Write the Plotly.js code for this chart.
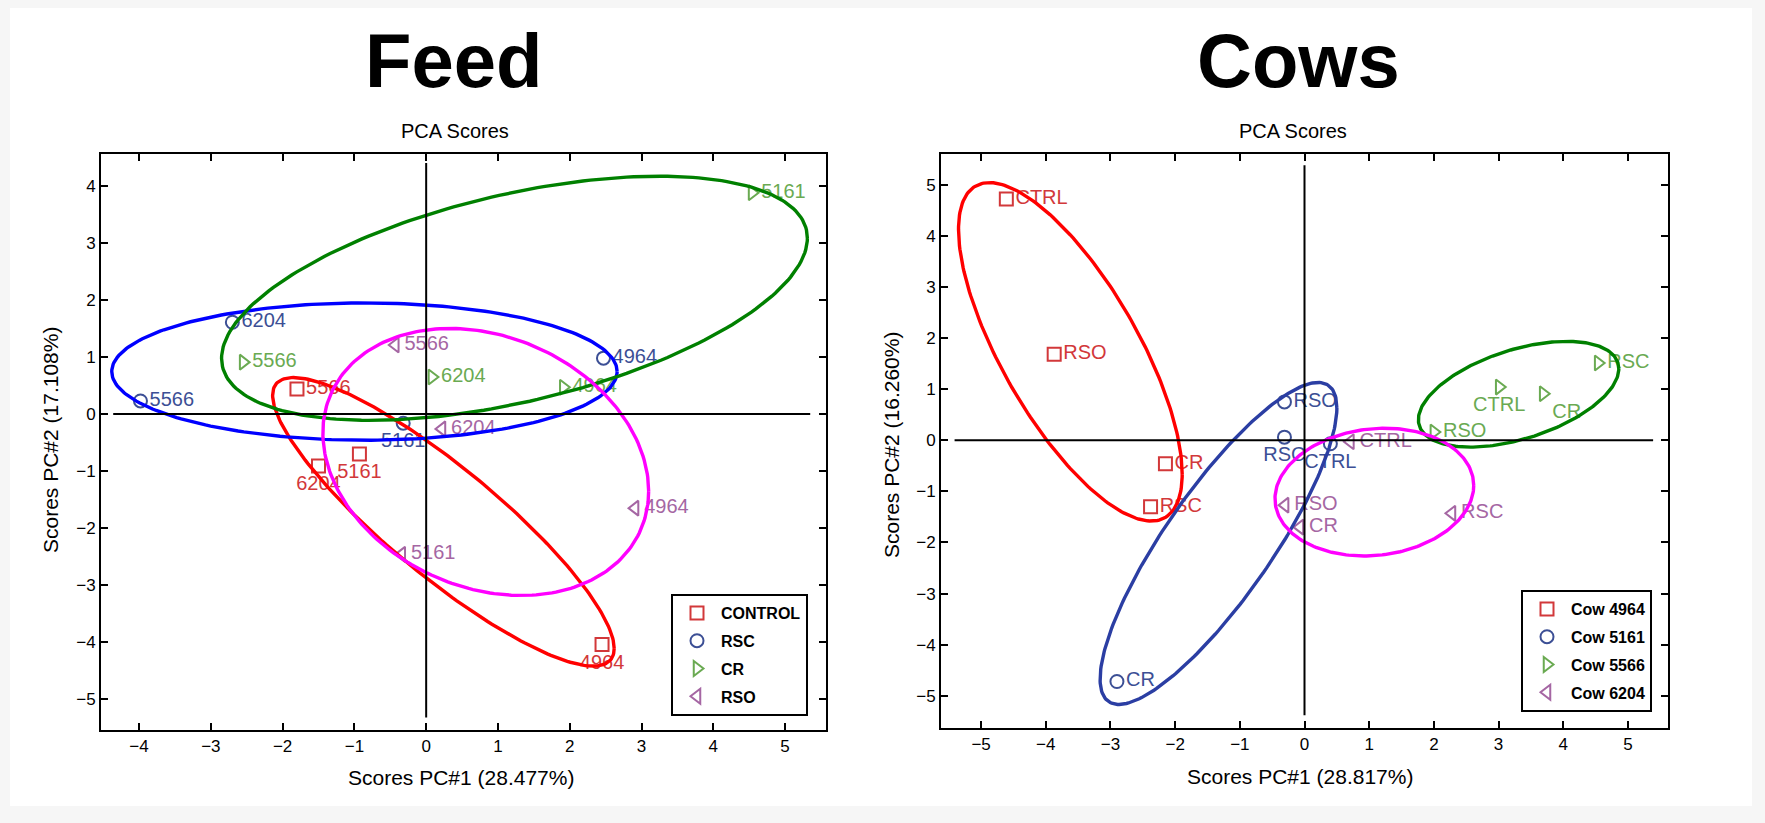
<!DOCTYPE html>
<html><head><meta charset="utf-8">
<script src="https://cdn.plot.ly/plotly-3.0.1.min.js"></script>
<style>html,body{margin:0;padding:0;background:#f6f6f6}</style>
</head><body><div id="chart" style="width:1765px;height:823px"></div>
<script>
// ---------------- DATA: Feed (left) ----------------
const feedGroups = ['CONTROL', 'RSC', 'CR', 'RSO'];
const feedControlX = [-1.80, -1.50, -0.93, 2.45];
const feedControlY = [0.44, -0.91, -0.70, -4.04];
const feedControlText = ['5566', '6204', '5161', '4964'];
const feedRscX = [-2.70, -3.98, 2.47, -0.32];
const feedRscY = [1.61, 0.23, 0.98, -0.16];
const feedRscText = ['6204', '5566', '4964', '5161'];
const feedCrX = [4.54, -2.55, 0.08, 1.91];
const feedCrY = [3.88, 0.91, 0.65, 0.47];
const feedCrText = ['5161', '5566', '6204', '4964'];
const feedRsoX = [-0.43, 0.22, -0.34, 2.91];
const feedRsoY = [1.21, -0.26, -2.46, -1.65];
const feedRsoText = ['5566', '6204', '5161', '4964'];
// confidence ellipses (centre, variances, covariance) per group
const feedEllCx = [0.24, -0.86, 1.23, 0.83];
const feedEllCy = [-1.89, 0.745, 2.03, -0.84];
const feedEllSxx = [5.66, 12.39, 16.65, 5.15];
const feedEllSyy = [6.40, 1.45, 4.58, 5.48];
const feedEllSxy = [-5.28, 0.0, 4.30, -1.16];

// ---------------- DATA: Cows (right) ----------------
const cowGroups = ['Cow 4964', 'Cow 5161', 'Cow 5566', 'Cow 6204'];
const cow4964X = [-4.61, -3.87, -2.15, -2.38];
const cow4964Y = [4.72, 1.68, -0.46, -1.30];
const cow4964Text = ['CTRL', 'RSO', 'CR', 'RSC'];
const cow5161X = [-0.31, -0.31, 0.40, -2.90];
const cow5161Y = [0.75, 0.06, -0.07, -4.72];
const cow5161Text = ['RSO', 'RSC', 'CTRL', 'CR'];
const cow5566X = [4.54, 3.01, 3.69, 2.00];
const cow5566Y = [1.51, 1.04, 0.91, 0.16];
const cow5566Text = ['RSC', 'CTRL', 'CR', 'RSO'];
const cow6204X = [0.71, -0.30, -0.07, 2.28];
const cow6204Y = [-0.03, -1.27, -1.70, -1.43];
const cow6204Text = ['CTRL', 'RSO', 'CR', 'RSC'];
const cowEllCx = [-3.62, -1.33, 3.31, 1.08];
const cowEllCy = [1.73, -2.02, 0.90, -1.015];
const cowEllSxx = [2.99, 3.35, 2.40, 2.36];
const cowEllSyy = [10.96, 9.92, 1.07, 1.56];
const cowEllSxy = [-4.14, 4.85, 0.77, 0.20];

// tick values
const feedXTicks = [-4, -3, -2, -1, 0, 1, 2, 3, 4, 5];
const feedYTicks = [-5, -4, -3, -2, -1, 0, 1, 2, 3, 4];
const cowXTicks = [-5, -4, -3, -2, -1, 0, 1, 2, 3, 4, 5];
const cowYTicks = [-5, -4, -3, -2, -1, 0, 1, 2, 3, 4, 5];

// ---------------- STYLE ----------------
const W = 1765, H = 823;
const px = v => v / W, py = v => 1 - v / H;
const FONT = 'Liberation Sans, Arial, Helvetica, sans-serif';
const markerColors = ['#d2383a', '#3c4f95', '#6aaa52', '#a566a3'];
const symbols = ['square-open', 'circle-open', 'triangle-right-open', 'triangle-left-open'];
const feedEllColors = ['#ff0000', '#0000ff', '#008000', '#ff00ff'];
const cowEllColors = ['#ff0000', '#2b3ea3', '#008000', '#ff00ff'];
const R = 'middle right', B = 'bottom center', BR = 'bottom right';
const feedPos = [[R, B, B, B], [R, R, R, B], [R, R, R, R], [R, R, R, R]];
const cowPos = [[R, R, R, R], [R, B, B, R], [R, B, BR, R], [R, R, R, R]];

const feedSets = [[feedControlX, feedControlY, feedControlText], [feedRscX, feedRscY, feedRscText],
                  [feedCrX, feedCrY, feedCrText], [feedRsoX, feedRsoY, feedRsoText]];
const cowSets = [[cow4964X, cow4964Y, cow4964Text], [cow5161X, cow5161Y, cow5161Text],
                 [cow5566X, cow5566Y, cow5566Text], [cow6204X, cow6204Y, cow6204Text]];

function ellipse(cx, cy, sxx, syy, sxy) {
  const a = Math.sqrt(sxx), b = sxy / a, c = Math.sqrt(Math.max(syy - b * b, 0));
  const xs = [], ys = [];
  for (let i = 0; i <= 240; i++) {
    const t = 2 * Math.PI * i / 240;
    xs.push(cx + a * Math.cos(t));
    ys.push(cy + b * Math.cos(t) + c * Math.sin(t));
  }
  return [xs, ys];
}

const traces = [];
function addPanel(sets, groups, pos, ell, ellColors, xa, ya, legendId) {
  sets.forEach((s, i) => {
    traces.push({
      type: 'scatter', mode: 'markers+text', x: s[0], y: s[1], text: s[2],
      name: groups[i], legend: legendId, legendgroup: legendId + i,
      xaxis: xa, yaxis: ya, textposition: pos[i],
      marker: {symbol: symbols[i], size: 13, color: markerColors[i], line: {width: 2, color: markerColors[i]}},
      textfont: {family: FONT, size: 20, color: markerColors[i]},
      hoverinfo: 'skip'
    });
  });
  ell[0].forEach((cx, i) => {
    const e = ellipse(cx, ell[1][i], ell[2][i], ell[3][i], ell[4][i]);
    traces.push({
      type: 'scatter', mode: 'lines', x: e[0], y: e[1], xaxis: xa, yaxis: ya,
      showlegend: false, legend: legendId, line: {color: ellColors[i], width: 3.4},
      hoverinfo: 'skip'
    });
  });
}
addPanel(feedSets, feedGroups, feedPos, [feedEllCx, feedEllCy, feedEllSxx, feedEllSyy, feedEllSxy], feedEllColors, 'x', 'y', 'legend');
addPanel(cowSets, cowGroups, cowPos, [cowEllCx, cowEllCy, cowEllSxx, cowEllSyy, cowEllSxy], cowEllColors, 'x2', 'y2', 'legend2');

const axisBase = {
  showgrid: false, zeroline: false, showline: true, linewidth: 2, linecolor: '#000',
  mirror: 'ticks', ticks: 'inside', ticklen: 7, tickwidth: 2, tickcolor: '#000',
  tickfont: {family: FONT, size: 17, color: '#000'}, tickmode: 'array', fixedrange: true
};

const lineStyle = {color: '#000', width: 2};
const shapes = [
  {type: 'rect', xref: 'paper', yref: 'paper', x0: px(10), x1: px(1752), y0: py(806), y1: py(8),
   fillcolor: '#ffffff', line: {width: 0}, layer: 'below'},
  {type: 'line', xref: 'x', yref: 'y', x0: -4.36, x1: 5.35, y0: 0, y1: 0, line: lineStyle},
  {type: 'line', xref: 'x', yref: 'y', x0: 0, x1: 0, y0: -5.32, y1: 4.40, line: lineStyle},
  {type: 'line', xref: 'x2', yref: 'y2', x0: -5.41, x1: 5.39, y0: 0, y1: 0, line: lineStyle},
  {type: 'line', xref: 'x2', yref: 'y2', x0: 0, x1: 0, y0: -5.38, y1: 5.38, line: lineStyle}
];

function ann(text, x, y, size, opts) {
  return Object.assign({text: text, x: px(x), y: py(y), xref: 'paper', yref: 'paper',
    showarrow: false, xanchor: 'center', yanchor: 'middle',
    font: {family: FONT, size: size, color: '#000'}}, opts || {});
}
const annotations = [
  ann('Feed', 454, 60, 76, {font: {family: FONT, size: 76, color: '#000', weight: 'bold'}}),
  ann('Cows', 1298, 60, 76, {font: {family: FONT, size: 76, color: '#000', weight: 'bold'}}),
  ann('PCA Scores', 455, 131, 20),
  ann('PCA Scores', 1293, 131, 20),
  ann('Scores PC#1 (28.477%)', 461, 777, 21),
  ann('Scores PC#1 (28.817%)', 1300, 776, 21),
  ann('Scores PC#2 (17.108%)', 50, 440, 21, {textangle: -90}),
  ann('Scores PC#2 (16.260%)', 891, 445, 21, {textangle: -90})
];

const legendBase = {
  bgcolor: '#ffffff', bordercolor: '#000', borderwidth: 2,
  font: {family: FONT, size: 16, color: '#000', weight: 'bold'},
  xanchor: 'right', yanchor: 'bottom', traceorder: 'grouped', tracegroupgap: 4, itemwidth: 38
};

const layout = {
  width: W, height: H, margin: {l: 0, r: 0, t: 0, b: 0},
  paper_bgcolor: '#f6f6f6', plot_bgcolor: '#ffffff', showlegend: true,
  xaxis: Object.assign({}, axisBase, {domain: [px(101), px(826)], range: [-4.53, 5.57], tickvals: feedXTicks, anchor: 'y'}),
  yaxis: Object.assign({}, axisBase, {domain: [py(730), py(154)], range: [-5.54, 4.56], tickvals: feedYTicks, anchor: 'x'}),
  xaxis2: Object.assign({}, axisBase, {domain: [px(941), px(1668)], range: [-5.62, 5.62], tickvals: cowXTicks, anchor: 'y2'}),
  yaxis2: Object.assign({}, axisBase, {domain: [py(728), py(154)], range: [-5.63, 5.60], tickvals: cowYTicks, anchor: 'x2'}),
  legend: Object.assign({}, legendBase, {x: px(808), y: py(716)}),
  legend2: Object.assign({}, legendBase, {x: px(1652), y: py(712)}),
  shapes: shapes, annotations: annotations
};

Plotly.newPlot('chart', traces, layout, {staticPlot: true, displayModeBar: false});
</script></body></html>
